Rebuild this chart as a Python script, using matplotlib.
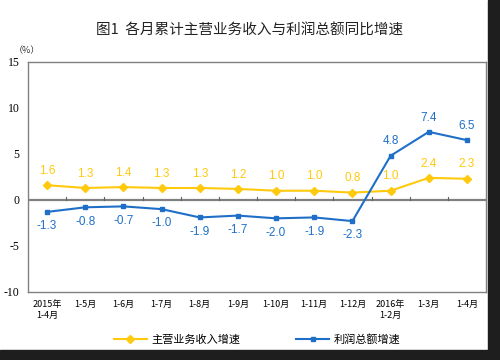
import numpy as np
import matplotlib.pyplot as plt
from matplotlib.patches import Rectangle

plt.rcParams['font.family'] = ['Noto Sans CJK SC', 'DejaVu Sans']

months = ['2015年\n1-4月', '1-5月', '1-6月', '1-7月', '1-8月', '1-9月', '1-10月',
          '1-11月', '1-12月', '2016年\n1-2月', '1-3月', '1-4月']
revenue = [1.6, 1.3, 1.4, 1.3, 1.3, 1.2, 1.0, 1.0, 0.8, 1.0, 2.4, 2.3]
profit = [-1.3, -0.8, -0.7, -1.0, -1.9, -1.7, -2.0, -1.9, -2.3, 4.8, 7.4, 6.5]

yellow = '#FFC90E'
blue = '#1F6FC9'

fig = plt.figure(figsize=(5, 3.6), dpi=100)
ax = fig.add_axes([0.056, 0.189, 0.916, 0.639])

x = np.arange(len(months))
ax.plot(x, revenue, color=yellow, lw=1.5, marker='D', ms=4, label='主营业务收入增速')
ax.plot(x, profit, color=blue, lw=1.5, marker='s', ms=3.5, label='利润总额增速')

for xi, v in zip(x, revenue):
    ax.annotate(f'{v:.1f}', (xi, v), xytext=(0, 6), textcoords='offset points',
                ha='center', va='bottom', color=yellow, fontsize=8.5, family='Liberation Sans')
for xi, v in zip(x, profit):
    off = -6 if v < 0 else 6
    ax.annotate(f'{v:.1f}', (xi, v), xytext=(0, off), textcoords='offset points',
                ha='center', va='top' if v < 0 else 'bottom', color=blue, fontsize=8.5,
                family='Liberation Sans')

ax.set_xlim(-0.5, len(months) - 0.5)
ax.set_ylim(-10, 15)
ax.set_yticks([-10, -5, 0, 5, 10, 15])
ax.set_yticklabels(['-10', '-5', '0', '5', '10', '15'], family='Liberation Serif', fontsize=8.5)
ax.tick_params(axis='y', length=0, pad=6)

ax.set_xticks(x)
ax.set_xticklabels(months, fontsize=6.5, linespacing=1.3)
ax.tick_params(axis='x', length=0, pad=6)

# zero line with ticks at category boundaries
ax.axhline(0, color='#808080', lw=1.6, zorder=1)
for b in np.arange(0.5, len(months) - 0.5, 1):
    ax.plot([b, b], [0, 0.35], color='#606060', lw=0.8, zorder=1)

for s in ax.spines.values():
    s.set_color('#808080')
    s.set_linewidth(1.0)

fig.text(0.5, 0.915, '图1  各月累计主营业务收入与利润总额同比增速', ha='center', va='center',
         fontsize=10.5, fontweight='medium', color='#222222')
fig.text(0.028, 0.86, '（%）', ha='left', va='center', fontsize=6.5, color='#333333')

ax.legend(loc='center', bbox_to_anchor=(0.5, -0.205), ncol=2, frameon=False,
          fontsize=8, handlelength=3, columnspacing=5, handletextpad=0.4)

# dark border strips on right and bottom
fig.patches.append(Rectangle((488 / 500, 0), 12 / 500, 1, transform=fig.transFigure,
                             color='#1e1e1e', zorder=10))
fig.patches.append(Rectangle((0, 0), 1, 10 / 360, transform=fig.transFigure,
                             color='#1e1e1e', zorder=10))

fig.savefig('out.png', dpi=100)
